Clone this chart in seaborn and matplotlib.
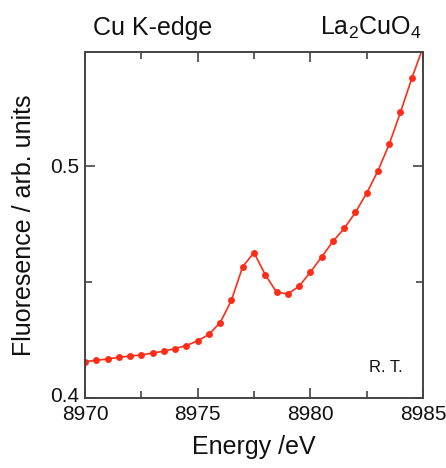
import numpy as np
import pandas as pd
import matplotlib
matplotlib.use("Agg")
import matplotlib.pyplot as plt
import matplotlib.transforms as mtransforms
from matplotlib.ticker import MultipleLocator
import seaborn as sns

# 數據
energy = [8970.0, 8970.5, 8971.0, 8971.5, 8972.0, 8972.5, 8973.0, 8973.5,
          8974.0, 8974.5, 8975.0, 8975.5, 8976.0, 8976.5, 8977.0, 8977.5,
          8978.0, 8978.5, 8979.0, 8979.5, 8980.0, 8980.5, 8981.0, 8981.5,
          8982.0, 8982.5, 8983.0, 8983.5, 8984.0, 8984.5, 8985.0]
fluorescence = [0.4157, 0.4162, 0.4168, 0.4175, 0.4181, 0.4185, 0.4194, 0.4201,
                0.4213, 0.4226, 0.4246, 0.4274, 0.4325, 0.4421, 0.4566, 0.4626,
                0.4531, 0.4456, 0.4448, 0.4481, 0.4542, 0.4607, 0.4674, 0.4730,
                0.4799, 0.4882, 0.4978, 0.5093, 0.5230, 0.5376, 0.5510]
x_ticks = [8970, 8975, 8980, 8985]
y_ticks = [0.4, 0.5]

df = pd.DataFrame({"Energy": energy, "Fluorescence": fluorescence})

sns.set_style("ticks")
plt.rcParams["font.family"] = ["Liberation Sans", "DejaVu Sans"]
plt.rcParams["mathtext.fontset"] = "custom"
plt.rcParams["mathtext.rm"] = "Liberation Sans"
plt.rcParams["mathtext.it"] = "Liberation Sans"

fig = plt.figure(figsize=(4.46, 4.68), dpi=100)
ax = fig.add_axes([85 / 446, 1 - 398 / 468, 338 / 446, 346 / 468])

red = "#ff2d17"
sns.lineplot(data=df, x="Energy", y="Fluorescence", ax=ax, color=red,
             marker="o", markersize=5, markeredgewidth=0, linewidth=1.2)

ax.set_xlim(8970, 8985)
ax.set_ylim(0.4, 0.549)
ax.set_xticks(x_ticks)
ax.set_yticks(y_ticks)
ax.xaxis.set_minor_locator(MultipleLocator(2.5))
ax.yaxis.set_minor_locator(MultipleLocator(0.05))
ax.set_xticklabels([str(t) for t in x_ticks])
ax.set_yticklabels([f"{t:.1f}" for t in y_ticks])

edge = "#444444"
for s in ax.spines.values():
    s.set_color(edge)
    s.set_linewidth(1.4)
ax.tick_params(which="both", direction="in", top=True, right=True,
               color=edge, width=1.2, labelsize=15, labelcolor="#111111")
ax.tick_params(which="major", length=7)
ax.tick_params(axis="x", which="major", pad=5)
ax.tick_params(axis="y", which="major", pad=4)
ax.tick_params(which="minor", length=5)

# 0.4 標籤稍微上移, 避免與 8970 重疊
lab = ax.get_yticklabels()[0]
lab.set_transform(lab.get_transform() +
                  mtransforms.ScaledTranslation(0, 4 / 100, fig.dpi_scale_trans))

ax.set_xlabel("Energy /eV", fontsize=18, color="#111111", labelpad=8)
ax.set_ylabel("Fluoresence / arb. units", fontsize=18, color="#111111", labelpad=10)

fig.text(93 / 446, 1 - 35 / 468, "Cu K-edge", fontsize=18, ha="left",
         va="baseline", color="#111111")
fig.text(421 / 446, 1 - 35 / 468, r"La$_2$CuO$_4$", fontsize=18, ha="right",
         va="baseline", color="#111111")
ax.text(0.94, 0.087, "R. T.", transform=ax.transAxes, fontsize=12,
        ha="right", va="center", color="#111111")

fig.savefig("out.png", dpi=100)
